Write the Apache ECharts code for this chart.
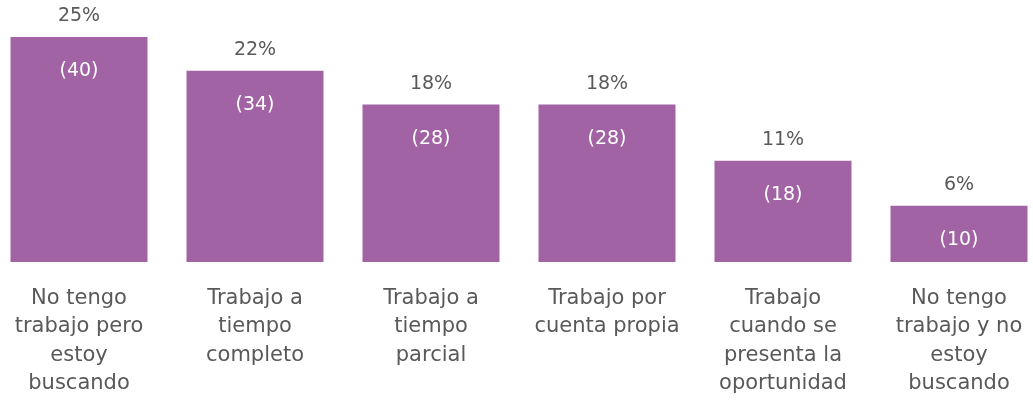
<!DOCTYPE html>
<html>
<head>
<meta charset="utf-8">
<script src="https://cdn.jsdelivr.net/npm/echarts@6/dist/echarts.min.js"></script>
<style>
  html, body { margin: 0; padding: 0; background: #fff; overflow: hidden; }
  #chart { position: absolute; left: -9.5px; top: 0; width: 1056px; height: 403px; }
</style>
</head>
<body>
<div id="chart"></div>
<script>
var categories = [
  'No tengo\ntrabajo pero\nestoy\nbuscando',
  'Trabajo a\ntiempo\ncompleto',
  'Trabajo a\ntiempo\nparcial',
  'Trabajo por\ncuenta propia',
  'Trabajo\ncuando se\npresenta la\noportunidad',
  'No tengo\ntrabajo y no\nestoy\nbuscando'
]
var counts = [40, 34, 28, 28, 18, 10]
var percents = [25, 22, 18, 18, 11, 6]

var chart = echarts.init(document.getElementById('chart'))
var font = 'DejaVu Sans'

chart.setOption({
  animation: false,
  grid: { left: 0, right: 0, top: 37, bottom: 141 },
  xAxis: {
    type: 'category',
    data: categories,
    axisLine: { show: false },
    axisTick: { show: false },
    axisLabel: {
      interval: 0,
      margin: 22,
      fontFamily: font,
      fontSize: 21,
      lineHeight: 28.5,
      color: '#595959'
    }
  },
  yAxis: {
    type: 'value',
    min: 0,
    max: 40,
    show: false,
    splitLine: { show: false }
  },
  series: [
    {
      // percentage above each bar
      type: 'bar',
      data: counts,
      barWidth: 137,
      itemStyle: { color: '#a263a5' },
      label: {
        show: true,
        position: 'top',
        distance: 11,
        fontFamily: font,
        fontSize: 19,
        color: '#595959',
        formatter: function(p) { return percents[p.dataIndex] + '%' }
      },
      z: 2
    },
    {
      // count label inside the bar
      type: 'bar',
      data: counts,
      barWidth: 137,
      barGap: '-100%',
      itemStyle: { color: 'transparent' },
      label: {
        show: true,
        position: 'insideTop',
        distance: 25,
        fontFamily: font,
        fontSize: 19,
        color: '#ffffff',
        formatter: function(p) { return '(' + p.value + ')' }
      },
      z: 3
    }
  ]
})
</script>
</body>
</html>
